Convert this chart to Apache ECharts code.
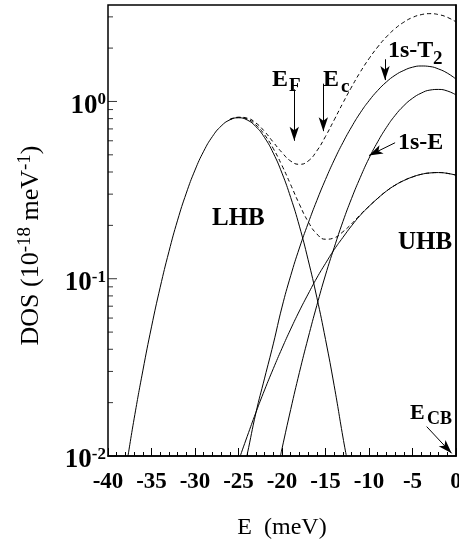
<!DOCTYPE html>
<html>
<head>
<meta charset="utf-8">
<script src="https://cdn.jsdelivr.net/npm/echarts@6/dist/echarts.min.js"></script>
<style>
  html, body { margin: 0; padding: 0; background: #fff; }
  #chart { width: 459px; height: 541px; }
</style>
</head>
<body>
<div id="chart"></div>
<script>
// energies (meV) and DOS values
var lhbE = [-37.7, -37, -36, -35, -34, -33, -32, -31, -30, -29, -28, -27, -26, -25, -24, -23, -22, -21, -20, -19, -18, -17, -16, -15, -14, -13, -12.6];
var lhbDos = [0.01, 0.0162, 0.0302, 0.0535, 0.0895, 0.142, 0.214, 0.304, 0.410, 0.524, 0.634, 0.726, 0.787, 0.809, 0.786, 0.721, 0.625, 0.511, 0.394, 0.287, 0.198, 0.128, 0.0786, 0.0455, 0.0249, 0.0128, 0.01];

var t2E = [-24.06, -24, -23, -22, -21, -20, -19, -18, -17, -16, -15, -14, -13, -12, -11, -10, -9, -8, -7, -6, -5, -4, -3, -2, -1, 0];
var t2Dos = [0.01, 0.0102, 0.0175, 0.0275, 0.0429, 0.0692, 0.104, 0.149, 0.205, 0.276, 0.363, 0.467, 0.586, 0.719, 0.863, 1.009, 1.153, 1.288, 1.406, 1.496, 1.560, 1.585, 1.574, 1.524, 1.445, 1.337];

var sEE = [-20.18, -20, -19, -18, -17, -16, -15, -14, -13, -12, -11, -10, -9, -8, -7, -6, -5, -4, -3, -2, -1, 0];
var sEDos = [0.01, 0.0110, 0.0183, 0.0296, 0.0463, 0.0706, 0.105, 0.150, 0.210, 0.284, 0.373, 0.478, 0.592, 0.713, 0.834, 0.946, 1.042, 1.114, 1.159, 1.169, 1.146, 1.089];

var uhbE = [-24.8, -24, -23, -22, -21, -20, -19, -18, -17, -16, -15, -14, -13, -12, -11, -10, -9, -8, -7, -6, -5, -4, -3, -2, -1, 0];
var uhbDos = [0.01, 0.0129, 0.0176, 0.0236, 0.0311, 0.0405, 0.052, 0.0658, 0.0819, 0.101, 0.122, 0.146, 0.171, 0.199, 0.228, 0.256, 0.284, 0.312, 0.337, 0.358, 0.375, 0.388, 0.395, 0.397, 0.393, 0.384];

var sumE = [-26, -25, -24, -23, -22, -21, -20, -19, -18, -17, -16, -15, -14, -13, -12, -11, -10, -9, -8, -7, -6, -5, -4, -3, -2, -1, 0];
var totalDos = [0.792, 0.815, 0.805, 0.756, 0.677, 0.589, 0.515, 0.461, 0.442, 0.461, 0.526, 0.635, 0.787, 0.980, 1.207, 1.466, 1.743, 2.029, 2.313, 2.576, 2.800, 2.977, 3.087, 3.128, 3.090, 2.984, 2.810];
var hubbardDos = [0.790, 0.812, 0.796, 0.737, 0.648, 0.542, 0.435, 0.339, 0.263, 0.210, 0.179, 0.167, 0.170, 0.184, 0.204, 0.230, 0.256, 0.284, 0.312, 0.337, 0.358, 0.375, 0.388, 0.395, 0.397, 0.393, 0.384];

var yMajor = [0.01, 0.1, 1];
var yMinor = [0.02, 0.03, 0.04, 0.05, 0.06, 0.07, 0.08, 0.09, 0.2, 0.3, 0.4, 0.5, 0.6, 0.7, 0.8, 0.9, 2, 3];

// arrow annotations [E, DOS] start -> end
var arrows = [
  [[-18.59, 1.17], [-18.59, 0.60]],   // E_F
  [[-15.25, 1.26], [-15.25, 0.68]],   // E_c
  [[-8.16, 1.73], [-8.16, 1.32]],     // 1s-T2
  [[-7.0, 0.585], [-10.0, 0.495]],    // 1s-E
  [[-3.37, 0.01465], [-0.5, 0.01035]] // E_CB
];

function pairs(xs, ys) {
  return xs.map(function (x, i) { return [x, ys[i]]; });
}

var serif = '"Liberation Serif", "DejaVu Serif", serif';
var chart = echarts.init(document.getElementById('chart'));

function solid(name, xs, ys) {
  return {
    name: name, type: 'line', data: pairs(xs, ys), smooth: true,
    symbol: 'none', lineStyle: { color: '#000', width: 1 }, z: 3
  };
}
function dashed(name, xs, ys) {
  return {
    name: name, type: 'line', data: pairs(xs, ys), smooth: true,
    symbol: 'none', lineStyle: { color: '#000', width: 1, type: [4, 3] }, z: 2
  };
}
// log ticks on the left axis, placed through the axes
function ticks(name, vals, len) {
  return {
    name: name, type: 'scatter', silent: true,
    data: vals.map(function (v) { return [-40, v]; }),
    symbol: 'rect', symbolSize: [len, 1], symbolOffset: [len / 2, 0],
    itemStyle: { color: '#000' }, z: 5
  };
}

var lhbSeries = solid('LHB', lhbE, lhbDos);
lhbSeries.markLine = {
  silent: true,
  symbol: ['none', 'arrow'],
  symbolSize: [7, 14],
  label: { show: false },
  lineStyle: { color: '#000', width: 1, type: 'solid' },
  data: arrows.map(function (a) {
    return [{ coord: a[0] }, { coord: a[1] }];
  })
};

function txt(x, y, s, size) {
  return {
    type: 'text', x: x, y: y,
    style: {
      text: s, fill: '#000', font: 'bold ' + size + 'px ' + serif,
      textAlign: 'left', textVerticalAlign: 'middle', align: 'left', verticalAlign: 'middle'
    }
  };
}

var option = {
  animation: false,
  backgroundColor: '#fff',
  grid: {
    left: 108, right: 3, top: 5, bottom: 85, outerBoundsMode: 'none',
    show: true, borderColor: '#000', borderWidth: 1.5
  },
  xAxis: {
    type: 'value', min: -40, max: 0, interval: 5,
    name: 'E  (meV)', nameLocation: 'middle', nameGap: 60,
    nameTextStyle: { fontFamily: serif, fontSize: 24, color: '#000' },
    axisLine: { lineStyle: { color: '#000', width: 1.5 } },
    axisTick: { inside: true, length: 8, lineStyle: { color: '#000' } },
    minorTick: { show: true, splitNumber: 5, length: 4, lineStyle: { color: '#000' } },
    splitLine: { show: false },
    axisLabel: {
      fontFamily: serif, fontWeight: 'bold', fontSize: 23, color: '#000', margin: 15,
      showMinLabel: true, showMaxLabel: true
    }
  },
  yAxis: {
    type: 'log', logBase: 10, min: 0.01, max: 3.5,
    name: '{n|DOS (10}{s|-18}{n| meV}{s|-1}{n|)}',
    nameLocation: 'middle', nameGap: 64, nameRotate: 90,
    nameTextStyle: {
      padding: [0, 30, 0, 0],
      rich: {
        n: { fontFamily: serif, fontSize: 26, color: '#000', lineHeight: 28, verticalAlign: 'bottom' },
        s: { fontFamily: serif, fontSize: 19, color: '#000', lineHeight: 19, verticalAlign: 'top' }
      }
    },
    axisLine: { lineStyle: { color: '#000', width: 1.5 } },
    axisTick: { show: false },
    splitLine: { show: false },
    axisLabel: {
      margin: 2, padding: [8, 0, 0, 0],
      formatter: function (v) {
        var p = Math.log10(v);
        if (Math.abs(p - Math.round(p)) > 1e-6) return '';
        return '{b|10}{s|' + Math.round(p) + '}';
      },
      rich: {
        b: { fontFamily: serif, fontWeight: 'bold', fontSize: 27, color: '#000', lineHeight: 28, verticalAlign: 'bottom' },
        s: { fontFamily: serif, fontWeight: 'bold', fontSize: 17, color: '#000', lineHeight: 17, verticalAlign: 'top' }
      }
    }
  },
  series: [
    lhbSeries,
    solid('1s-T2', t2E, t2Dos),
    solid('1s-E', sEE, sEDos),
    solid('UHB', uhbE, uhbDos),
    dashed('total', sumE, totalDos),
    dashed('LHB+UHB', sumE, hubbardDos),
    ticks('major', yMajor, 9),
    ticks('minor', yMinor, 5)
  ],
  graphic: [
    txt(212, 219, 'LHB', 25),
    txt(398, 243, 'UHB', 25),
    txt(272, 80, 'E', 24),
    txt(289, 86, 'F', 19),
    txt(323, 80, 'E', 24),
    txt(341, 87, 'c', 19),
    txt(388, 51, '1s-T', 24),
    txt(433, 59, '2', 19),
    txt(398, 143, '1s-E', 24),
    txt(410, 413, 'E', 22),
    txt(427, 419, 'CB', 18)
  ]
};
chart.setOption(option);
</script>
</body>
</html>
